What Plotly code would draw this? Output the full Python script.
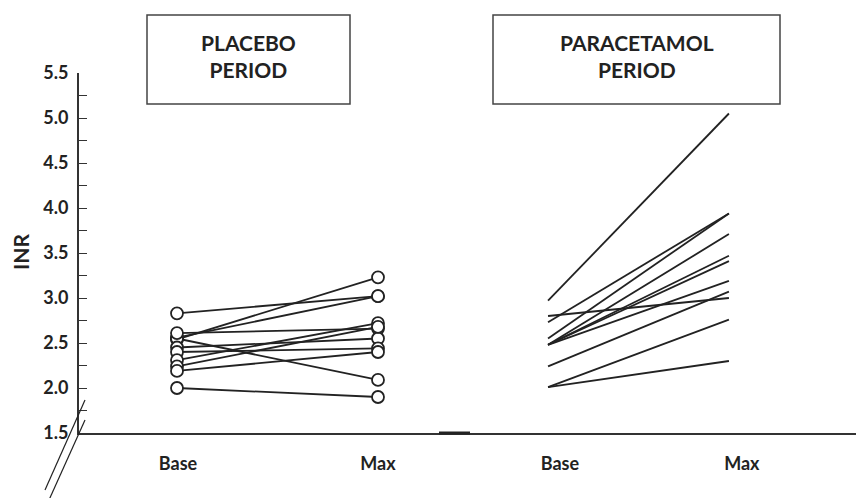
import plotly.graph_objects as go

# ---- data (INR values) ----
placebo_base = [2.83, 2.54, 2.56, 2.55, 2.00, 2.61, 2.45, 2.40, 2.31, 2.24, 2.19]
placebo_max  = [3.02, 3.23, 3.02, 2.09, 1.90, 2.66, 2.55, 2.44, 2.72, 2.68, 2.40]

para_base = [2.97, 2.80, 2.01, 2.01, 2.24, 2.48, 2.73, 2.55, 2.48, 2.48, 2.48]
para_max  = [5.05, 3.00, 2.30, 2.76, 3.07, 3.19, 3.94, 3.94, 3.71, 3.47, 3.41]

x_labels = ["Base", "Max", "Base", "Max"]
y_ticks = [1.5, 2.0, 2.5, 3.0, 3.5, 4.0, 4.5, 5.0, 5.5]

# ---- layout helpers (slot positions on the x axis) ----
placebo_pos = (0.0, 1.0)
para_pos = (1.846, 2.746)
label_pos = [0.005, 1.0, 1.905, 2.81]

OFF = 8                      # page body margin of the browser
W, H = 864 - OFF, 498 - OFF
L, R, T, B = 79 - OFF, 0, 73 - OFF, 498 - 433
pw, ph = W - L - R, H - T - B

def px(x):
    return (x - OFF - L) / pw

def py(y):
    return (H - B - (y - OFF)) / ph

FONT = "Lato"
INK = "#222222"

fig = go.Figure()

for b, m in zip(placebo_base, placebo_max):
    fig.add_trace(go.Scatter(
        x=list(placebo_pos), y=[b, m], mode="lines",
        line=dict(color=INK, width=1.8), hoverinfo="skip", showlegend=False))
for b, m in zip(para_base, para_max):
    fig.add_trace(go.Scatter(
        x=list(para_pos), y=[b, m], mode="lines",
        line=dict(color=INK, width=1.8), hoverinfo="skip", showlegend=False))

# open circle markers for placebo
fig.add_trace(go.Scatter(
    x=[placebo_pos[0]] * len(placebo_base) + [placebo_pos[1]] * len(placebo_max),
    y=placebo_base + placebo_max, mode="markers",
    marker=dict(symbol="circle", size=12, color="white",
                line=dict(color=INK, width=1.8)),
    cliponaxis=False, hoverinfo="skip", showlegend=False))

shapes = []
# period boxes
boxes = [((147, 15), (350, 104), "PLACEBO<br>PERIOD"),
         ((493, 15), (780, 104), "PARACETAMOL<br>PERIOD")]
annotations = []
for (x0, y0), (x1, y1), txt in boxes:
    shapes.append(dict(type="rect", xref="paper", yref="paper",
                       x0=px(x0), x1=px(x1), y0=py(y1), y1=py(y0),
                       line=dict(color="#444", width=1.5), fillcolor="white"))
    annotations.append(dict(xref="paper", yref="paper",
                            x=(px(x0) + px(x1)) / 2, y=py(56),
                            xanchor="center", yanchor="middle",
                            text="<b>" + txt + "</b>", showarrow=False,
                            font=dict(family=FONT, size=21, color=INK),
                            align="center"))
# axis break marks
for (xa, ya), (xb, yb) in [((85, 400), (45, 490)), ((85, 420), (49, 500))]:
    shapes.append(dict(type="line", xref="paper", yref="paper",
                       x0=px(xa), y0=py(ya), x1=px(xb), y1=py(yb),
                       line=dict(color=INK, width=1.2)))
# slightly heavier stretch of the baseline
shapes.append(dict(type="line", xref="paper", yref="paper",
                   x0=px(439), x1=px(470), y0=py(433), y1=py(433),
                   line=dict(color=INK, width=3)))

annotations.append(dict(xref="paper", yref="paper", x=px(20), y=py(252),
                        xanchor="center", yanchor="middle",
                        text="<b>INR</b>", textangle=-90, showarrow=False,
                        font=dict(family=FONT, size=21, color=INK)))

fig.update_layout(
    width=W, height=H, margin=dict(l=L, r=R, t=T, b=B, autoexpand=False),
    plot_bgcolor="white", paper_bgcolor="white",
    shapes=shapes, annotations=annotations,
    font=dict(family=FONT, color=INK),
    xaxis=dict(range=[-0.4876, 3.418], showgrid=False, zeroline=False,
               automargin=False,
               showline=True, linecolor="#333", linewidth=2,
               tickvals=label_pos, ticktext=["<b>%s</b>" % t for t in x_labels],
               ticks="", tickfont=dict(family=FONT, size=18, color=INK),
               ticklabelstandoff=13),
    yaxis=dict(range=[1.5, 5.5], showgrid=False, zeroline=False,
               automargin=False,
               showline=True, linecolor="#333", linewidth=2,
               tickvals=y_ticks, ticktext=["<b>%.1f</b>" % v for v in y_ticks],
               ticks="inside", ticklen=8, tickwidth=1, tickcolor="#333",
               minor=dict(dtick=0.25, tick0=1.5, ticks="inside", ticklen=8,
                          tickwidth=1, tickcolor="#333"),
               tickfont=dict(family=FONT, size=18, color=INK),
               ticklabelstandoff=5),
)

fig.write_html("out.html")
